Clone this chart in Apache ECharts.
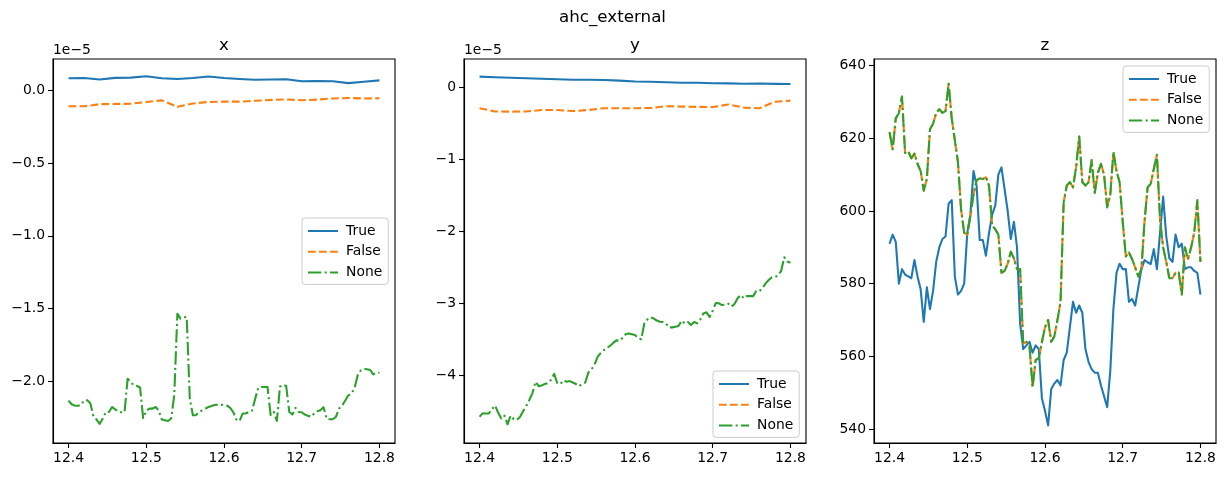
<!DOCTYPE html>
<html>
<head>
<meta charset="utf-8">
<script src="https://cdn.jsdelivr.net/npm/echarts@6/dist/echarts.min.js"></script>
<style>html,body{margin:0;padding:0;background:#fff}#c{width:1225px;height:478px}</style>
</head>
<body>
<div id="c"></div>
<script>
// time axis (fine sampling for the jagged series)
const tFine = [
12.4,12.404,12.408,12.412,12.416,12.42,12.424,12.428,12.432,12.436,
12.44,12.444,12.448,12.452,12.456,12.46,12.464,12.468,12.472,12.476,
12.48,12.484,12.488,12.492,12.496,12.5,12.504,12.508,12.512,12.516,
12.52,12.524,12.528,12.532,12.536,12.54,12.544,12.548,12.552,12.556,
12.56,12.564,12.568,12.572,12.576,12.58,12.584,12.588,12.592,12.596,
12.6,12.604,12.608,12.612,12.616,12.62,12.624,12.628,12.632,12.636,
12.64,12.644,12.648,12.652,12.656,12.66,12.664,12.668,12.672,12.676,
12.68,12.684,12.688,12.692,12.696,12.7,12.704,12.708,12.712,12.716,
12.72,12.724,12.728,12.732,12.736,12.74,12.744,12.748,12.752,12.756,
12.76,12.764,12.768,12.772,12.776,12.78,12.784,12.788,12.792,12.796,
12.8];
// coarse sampling for the smooth series
const tCoarse = [12.4,12.42,12.44,12.46,12.48,12.5,12.52,12.54,12.56,12.58,12.6,12.62,12.64,12.66,12.68,12.7,12.72,12.74,12.76,12.78,12.8];

// panel x (values in units of 1e-5)
const xTrue  = [0.080,0.082,0.072,0.083,0.085,0.094,0.080,0.076,0.082,0.092,0.082,0.076,0.070,0.072,0.074,0.060,0.061,0.060,0.047,0.056,0.066];
const xFalse = [-0.112,-0.112,-0.097,-0.096,-0.094,-0.082,-0.071,-0.115,-0.092,-0.082,-0.080,-0.080,-0.074,-0.068,-0.065,-0.070,-0.066,-0.058,-0.055,-0.058,-0.057];
const xNone = [
-2.13,-2.155,-2.165,-2.165,-2.16,-2.128,-2.128,-2.148,-2.235,-2.26,
-2.29,-2.253,-2.208,-2.208,-2.174,-2.19,-2.205,-2.21,-2.21,-1.98,
-2.003,-2.026,-2.03,-2.04,-2.25,-2.2,-2.185,-2.185,-2.174,-2.197,
-2.26,-2.265,-2.27,-2.253,-2.094,-1.534,-1.568,-1.56,-1.557,-2.116,
-2.231,-2.23,-2.208,-2.197,-2.185,-2.174,-2.167,-2.16,-2.158,-2.16,
-2.158,-2.165,-2.18,-2.21,-2.26,-2.27,-2.219,-2.219,-2.208,-2.2,
-2.12,-2.043,-2.037,-2.037,-2.037,-2.23,-2.208,-2.27,-2.035,-2.021,
-2.03,-2.208,-2.226,-2.18,-2.208,-2.21,-2.226,-2.235,-2.24,-2.219,
-2.203,-2.197,-2.175,-2.253,-2.258,-2.258,-2.242,-2.185,-2.165,-2.13,
-2.094,-2.082,-2.045,-1.957,-1.923,-1.913,-1.915,-1.92,-1.95,-1.939,-1.939];

// panel y (values in units of 1e-5)
const yTrue  = [0.148,0.140,0.133,0.125,0.118,0.112,0.105,0.104,0.102,0.093,0.080,0.077,0.070,0.064,0.064,0.057,0.055,0.050,0.052,0.048,0.045];
const yFalse = [-0.292,-0.335,-0.338,-0.335,-0.315,-0.315,-0.33,-0.315,-0.29,-0.29,-0.29,-0.288,-0.262,-0.268,-0.272,-0.275,-0.238,-0.282,-0.29,-0.2,-0.185];
const yNone = [
-4.575,-4.528,-4.53,-4.53,-4.47,-4.42,-4.52,-4.6,-4.56,-4.68,
-4.56,-4.61,-4.62,-4.58,-4.5,-4.43,-4.343,-4.25,-4.09,-4.15,
-4.14,-4.12,-4.11,-4.06,-3.98,-4.11,-4.12,-4.07,-4.09,-4.08,
-4.1,-4.12,-4.15,-4.12,-4.1,-3.96,-3.92,-3.85,-3.74,-3.69,
-3.65,-3.615,-3.59,-3.55,-3.515,-3.52,-3.48,-3.43,-3.42,-3.43,
-3.44,-3.48,-3.5,-3.28,-3.225,-3.195,-3.21,-3.24,-3.255,-3.26,
-3.285,-3.334,-3.334,-3.325,-3.315,-3.24,-3.28,-3.26,-3.3,-3.26,
-3.278,-3.225,-3.14,-3.125,-3.19,-3.1,-2.995,-3.0,-3.024,-3.02,
-3.005,-3.045,-3.01,-2.93,-2.884,-2.93,-2.898,-2.9,-2.9,-2.83,
-2.83,-2.79,-2.723,-2.676,-2.64,-2.635,-2.614,-2.55,-2.36,-2.42,-2.436];

// panel z
const zTrue = [
591,593.5,591.5,580,584,582.5,582,581.5,586.5,582,
578.5,569.5,579,573,578,586,590,592.3,593,602,
603,582,577,578,580,594,599,611,607,592,
592,587.7,594,599,601.5,610,612,606,600,592.3,
597,590,569,562,563,564,561,563,562,548.5,
545,541,551,552.5,553.5,552,559,561,568,575,
572,574,572,562,558.5,556.5,555.5,555.5,552,549,
546,556,573,583,585.5,584,584,575,575.8,574,
579,584,586.5,585.9,585.4,589.5,584,594,604,593,
587,586,593.5,590,591,584,584.5,584.5,583.5,583,577];
const zNone = [
621.7,617,625.5,627,631.5,616,616.5,614.5,615.8,613,
611,605.6,608.8,622.5,624,627,628,627,627.5,635,
625.5,619.5,613.5,600.5,594,593.5,598.7,604.5,608.5,609,
608.8,609.3,607,596,595,593.5,583,583.5,585.5,588.8,
587,584,584,563.5,564,563,551.5,559,559.5,563.9,
568,570,564,565.5,570,575,602.4,607,608,606.5,
612,620.5,608,607,607.9,614,605,610.5,613,610,
601,604.5,616.3,611,607.9,597,587.5,588.6,586.8,584.5,
582,584,597,606.5,607.5,611.6,615.5,597.5,590,586,
581.5,581.5,583,583.1,577,590,586.8,590,594,603,586];
// False coincides with None in panel z
const zFalse = zNone.slice();

const xTicks = [12.4,12.5,12.6,12.7,12.8];
const yTicksX = [0,-0.5,-1,-1.5,-2];
const yTicksY = [0,-1,-2,-3,-4];
const yTicksZ = [540,560,580,600,620,640];
const names = ['True','False','None'];

const FONT = 'DejaVu Sans';
const C = ['#1f77b4','#ff7f0e','#2ca02c'];
const LW = 2.08;
const DASH = [7.7,3.33];
const DASHDOT = [13.3,3.33,2.08,3.33];
const minus = s => s.replace('-', '\u2212');
const pair = (t, v) => t.map((x,i)=>[x, v[i]]);

const W = 342, H = 384, TOP = 59;
const lefts = [53, 464, 874];

const grids = lefts.map(l => ({left:l, top:TOP, width:W, height:H, show:true, borderColor:'#000', borderWidth:1.1, backgroundColor:'#fff'}));

const axisCommon = {
  axisLine:{show:true, onZero:false, lineStyle:{color:'#000', width:1.1}},
  splitLine:{show:false}
};
const xAxes = [0,1,2].map(g => Object.assign({}, axisCommon, {
  type:'value', gridIndex:g, min:12.38, max:12.82,
  axisTick:{show:true, length:5, lineStyle:{color:'#000', width:1.1}, customValues:xTicks},
  axisLabel:{customValues:xTicks, formatter:v=>v.toFixed(1), color:'#000', fontSize:13.9, fontFamily:FONT, margin:8}
}));
const yDefs = [
  {min:-2.421, max:0.2126, ticks:yTicksX, fmt:v=>minus(v.toFixed(1))},
  {min:-4.94, max:0.393, ticks:yTicksY, fmt:v=>minus(v.toFixed(0))},
  {min:536.15, max:641.84, ticks:yTicksZ, fmt:v=>v.toFixed(0)}
];
const yAxes = yDefs.map((d,g) => Object.assign({}, axisCommon, {
  type:'value', gridIndex:g, min:d.min, max:d.max,
  axisTick:{show:true, length:5, lineStyle:{color:'#000', width:1.1}, customValues:d.ticks},
  axisLabel:{customValues:d.ticks, formatter:d.fmt, color:'#000', fontSize:13.9, fontFamily:FONT, margin:8}
}));

function mk(name, g, t, v, k){
  const ls = {color:C[k], width:LW, cap:'butt', join:'round'};
  if (k===1) ls.type = DASH;
  if (k===2) ls.type = DASHDOT;
  return {name, type:'line', xAxisIndex:g, yAxisIndex:g, data:pair(t,v), symbol:'none', showSymbol:false,
          lineStyle:ls, itemStyle:{color:C[k]}, z:2+k, animation:false, silent:true};
}
const series = [
  mk('True',0,tCoarse,xTrue,0), mk('False',0,tCoarse,xFalse,1), mk('None',0,tFine,xNone,2),
  mk('True',1,tCoarse,yTrue,0), mk('False',1,tCoarse,yFalse,1), mk('None',1,tFine,yNone,2),
  mk('True',2,tFine,zTrue,0), mk('False',2,tFine,zFalse,1), mk('None',2,tFine,zNone,2)
];

function leg(left, top){
  return {left, top, orient:'vertical', data:names, itemWidth:30, itemHeight:14, itemGap:6.7,
    padding:[6,6,5,5], backgroundColor:'rgba(255,255,255,0.8)', borderColor:'#cccccc', borderWidth:1, borderRadius:3,
    itemStyle:{opacity:0},
    textStyle:{fontSize:13.9, fontFamily:FONT, color:'#000', padding:[0,0,0,3]}, selectedMode:false};
}

const txt = (x,y,text,size,align) => ({type:'text', x, y, style:{text, fontSize:size, fontFamily:FONT, fill:'#000', textAlign:align||'center', textVerticalAlign:'middle'}, z:100});

const chart = echarts.init(document.getElementById('c'), null, {renderer:'canvas'});
chart.setOption({
  animation:false,
  backgroundColor:'#fff',
  grid:grids, xAxis:xAxes, yAxis:yAxes, series,
  legend:[leg(302,218), leg(713,371), leg(1123,66)],
  graphic:[
    txt(612.5,18,'ahc_external',16.7),
    txt(lefts[0]+W/2,46,'x',16.7), txt(lefts[1]+W/2,46,'y',16.7), txt(lefts[2]+W/2,46,'z',16.7),
    txt(lefts[0],50,'1e\u22125',13.9,'left'), txt(lefts[1],50,'1e\u22125',13.9,'left')
  ]
});
</script>
</body>
</html>
